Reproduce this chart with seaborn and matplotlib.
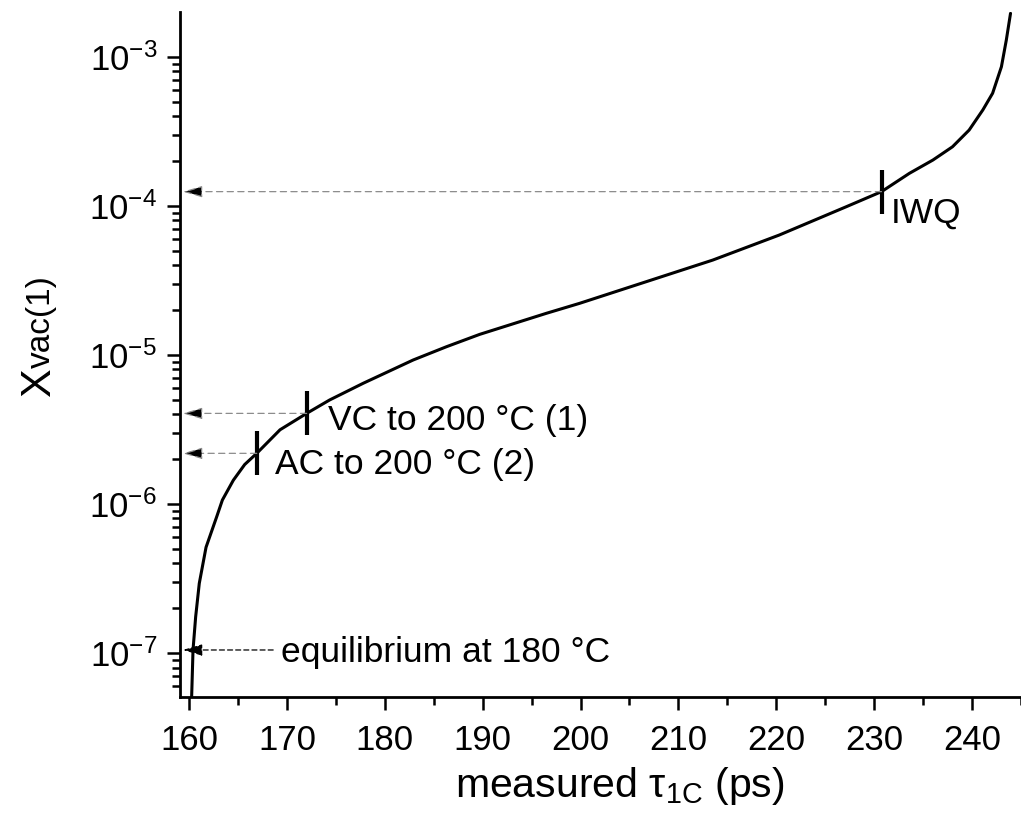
import matplotlib
matplotlib.use("Agg")
import matplotlib.pyplot as plt
import numpy as np
import pandas as pd
import seaborn as sns
from matplotlib.ticker import MultipleLocator, LogLocator, NullFormatter

# ---- data ----
tau_ps = [160.27, 160.31, 160.41, 160.68, 161.05, 161.74, 162.83, 163.41, 164.53,
          165.69, 166.92, 169.30, 172.02, 174.37, 177.80, 182.90, 186.30, 189.70,
          196.50, 199.90, 206.70, 213.50, 220.30, 227.15, 230.75, 233.60, 236.00,
          238.00, 239.70, 241.10, 242.10, 243.00, 243.50, 243.93]
x_vac = [5.105e-8, 6.266e-8, 1.050e-7, 1.754e-7, 2.938e-7, 5.129e-7, 8.222e-7,
         1.064e-6, 1.445e-6, 1.841e-6, 2.188e-6, 3.148e-6, 4.055e-6, 4.989e-6,
         6.457e-6, 9.247e-6, 1.135e-5, 1.374e-5, 1.901e-5, 2.218e-5, 3.097e-5,
         4.325e-5, 6.368e-5, 9.863e-5, 1.245e-4, 1.652e-4, 2.028e-4, 2.489e-4,
         3.221e-4, 4.395e-4, 5.689e-4, 8.570e-4, 1.294e-3, 1.954e-3]

mark_labels = ["IWQ", "VC to 200 °C (1)", "AC to 200 °C (2)"]
mark_tau = [230.75, 172.02, 166.92]
mark_x = [1.245e-4, 4.055e-6, 2.188e-6]

eq_label = "equilibrium at 180 °C"
eq_tau = 160.41
eq_x = 1.050e-7

x_ticks = [160, 170, 180, 190, 200, 210, 220, 230, 240]

# ---- styling ----
sns.set_theme(style="ticks")
plt.rcParams["font.family"] = ["Liberation Sans", "DejaVu Sans"]
plt.rcParams["mathtext.fontset"] = "custom"
plt.rcParams["mathtext.rm"] = "Liberation Sans"
plt.rcParams["mathtext.it"] = "Liberation Sans:italic"
plt.rcParams["mathtext.bf"] = "Liberation Sans:bold"
plt.rcParams["axes.unicode_minus"] = False

fig = plt.figure(figsize=(10.21, 8.36), dpi=100)
ax = fig.add_axes([180 / 1021, 139 / 836, 1 - 180 / 1021, 685 / 836])

df = pd.DataFrame({"tau": tau_ps, "xvac": x_vac})
sns.lineplot(data=df, x="tau", y="xvac", ax=ax, color="black", lw=2.2,
             sort=False, estimator=None, solid_joinstyle="round")
ax.set_yscale("log")
ax.set_xlim(159.08, 245.0)
ax.set_ylim(5.08e-8, 1.995e-3)

# vertical bar markers
ax.plot(mark_tau, mark_x, ls="none", marker="|", ms=31, mew=3.0, color="black")

tip_tau = 159.36
arrow_style = "-|>,head_length=0.75,head_width=0.22"
for t, xv in zip(mark_tau, mark_x):
    ax.annotate("", xy=(tip_tau, xv), xytext=(t, xv),
                arrowprops=dict(arrowstyle=arrow_style, mutation_scale=16, lw=0.9,
                                ls=(0, (5, 3.5)), ec="0.55", fc="black",
                                shrinkA=0, shrinkB=0))

text_offsets = [(6.7, -22.5), (15.5, -12.0), (13.2, -14.9)]
for lab, t, xv, off in zip(mark_labels, mark_tau, mark_x, text_offsets):
    ax.annotate(lab, xy=(t, xv), xytext=off, textcoords="offset points",
                ha="left", va="baseline", fontsize=25.5, color="black")

# equilibrium annotation
ax.annotate("", xy=(tip_tau, eq_x), xytext=(168.6, eq_x),
            arrowprops=dict(arrowstyle=arrow_style, mutation_scale=16, lw=0.9,
                            ls=(0, (4, 2.5)), ec="black", fc="black",
                            shrinkA=0, shrinkB=0))
ax.text(169.44, 8.7e-8, eq_label, ha="left", va="baseline", fontsize=25.5, color="black")

# axes / ticks
for side in ["top", "right"]:
    ax.spines[side].set_visible(False)
for side in ["left", "bottom"]:
    ax.spines[side].set_linewidth(2.0)
    ax.spines[side].set_color("black")

ax.set_xticks(x_ticks)
ax.xaxis.set_minor_locator(MultipleLocator(5))
ax.yaxis.set_major_locator(LogLocator(base=10, numticks=20))
ax.yaxis.set_minor_locator(LogLocator(base=10, subs=np.arange(2, 10), numticks=20))
ax.yaxis.set_minor_formatter(NullFormatter())
ax.tick_params(which="major", direction="out", length=9.5, width=1.8, labelsize=25,
               color="black", labelcolor="black", pad=7)
ax.tick_params(axis="x", which="major", pad=10)
ax.tick_params(which="minor", direction="out", length=5.5, width=1.8, color="black")

ax.set_xlabel("measured τ$_{\\mathregular{1C}}$ (ps)", fontsize=29.5, color="black")
ax.xaxis.label.set_va("baseline")
ax.xaxis.set_label_coords(0.523, -0.146)
ax.set_ylabel("")

fig.text(50 / 1021, 1 - 397 / 836, "X", rotation=90, rotation_mode="anchor",
         ha="left", va="baseline", fontsize=31, color="black")
fig.text(50 / 1021, 1 - 368 / 836, "vac(1)", rotation=90, rotation_mode="anchor",
         ha="left", va="baseline", fontsize=24, color="black")

fig.savefig("out.png", dpi=100)
